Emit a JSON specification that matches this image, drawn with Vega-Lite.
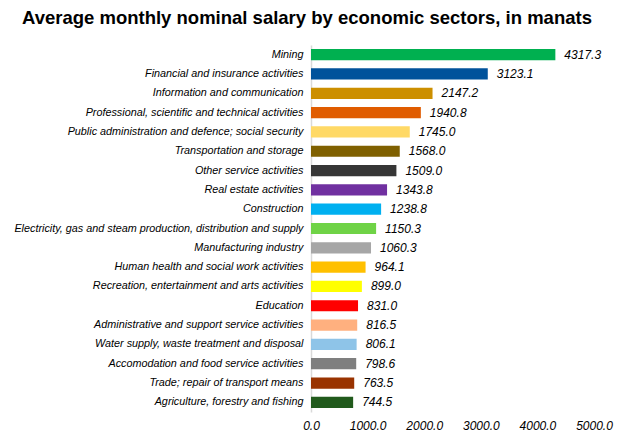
{
  "$schema": "https://vega.github.io/schema/vega-lite/v6.json",
  "autosize": "none",
  "padding": {"left": 311, "top": 45, "right": 28, "bottom": 31},
  "width": 283,
  "height": 367,
  "title": {
    "text": "Average monthly nominal salary by economic sectors, in manats",
    "anchor": "start",
    "frame": "group",
    "dx": -289,
    "offset": 18,
    "font": "Liberation Sans",
    "fontSize": 18.5,
    "fontWeight": "bold",
    "color": "#000000"
  },
  "config": {
    "view": {"stroke": null},
    "font": "Liberation Sans"
  },
  "data": {
    "values": [
      {"sector": "Mining", "salary": 4317.3, "color": "#00b050"},
      {"sector": "Financial and insurance activities", "salary": 3123.1, "color": "#00529b"},
      {"sector": "Information and communication", "salary": 2147.2, "color": "#cc8f00"},
      {"sector": "Professional, scientific and technical activities", "salary": 1940.8, "color": "#e05c00"},
      {"sector": "Public administration and defence; social security", "salary": 1745.0, "color": "#ffd966"},
      {"sector": "Transportation and storage", "salary": 1568.0, "color": "#7f6000"},
      {"sector": "Other service activities", "salary": 1509.0, "color": "#363636"},
      {"sector": "Real estate activities", "salary": 1343.8, "color": "#7030a0"},
      {"sector": "Construction", "salary": 1238.8, "color": "#00b0f0"},
      {"sector": "Electricity, gas and steam production, distribution and supply", "salary": 1150.3, "color": "#6fd346"},
      {"sector": "Manufacturing industry", "salary": 1060.3, "color": "#a6a6a6"},
      {"sector": "Human health and social work activities", "salary": 964.1, "color": "#ffc000"},
      {"sector": "Recreation, entertainment and arts activities", "salary": 899.0, "color": "#ffff00"},
      {"sector": "Education", "salary": 831.0, "color": "#ff0000"},
      {"sector": "Administrative and support service activities", "salary": 816.5, "color": "#ffb07f"},
      {"sector": "Water supply, waste treatment and disposal", "salary": 806.1, "color": "#8ec4e8"},
      {"sector": "Accomodation and food service activities", "salary": 798.6, "color": "#7f7f7f"},
      {"sector": "Trade; repair of transport means", "salary": 763.5, "color": "#993300"},
      {"sector": "Agriculture, forestry and fishing", "salary": 744.5, "color": "#215a1c"}
    ]
  },
  "encoding": {
    "y": {
      "field": "sector",
      "type": "nominal",
      "sort": null,
      "scale": {"paddingInner": 0.42, "paddingOuter": 0.21},
      "axis": {
        "title": null,
        "ticks": false,
        "domainColor": "#d9d9d9",
        "domainWidth": 1.5,
        "labelFont": "Liberation Sans",
        "labelFontSize": 10.8,
        "labelFontStyle": "italic",
        "labelColor": "#000000",
        "labelPadding": 8,
        "labelLimit": 320
      }
    },
    "x": {
      "field": "salary",
      "type": "quantitative",
      "scale": {"domain": [0, 5000], "nice": false},
      "axis": {
        "title": null,
        "values": [0, 1000, 2000, 3000, 4000, 5000],
        "format": ".1f",
        "grid": false,
        "domain": false,
        "ticks": false,
        "labelFont": "Liberation Sans",
        "labelFontSize": 12,
        "labelFontStyle": "italic",
        "labelColor": "#000000",
        "labelPadding": 8,
        "labelFlush": false
      }
    }
  },
  "layer": [
    {
      "mark": {"type": "bar"},
      "encoding": {
        "color": {"field": "color", "type": "nominal", "scale": null}
      }
    },
    {
      "mark": {
        "type": "text",
        "align": "left",
        "dx": 9,
        "font": "Liberation Sans",
        "fontSize": 12,
        "fontStyle": "italic",
        "color": "#000000"
      },
      "encoding": {
        "text": {"field": "salary", "type": "quantitative", "format": ".1f"}
      }
    }
  ]
}
